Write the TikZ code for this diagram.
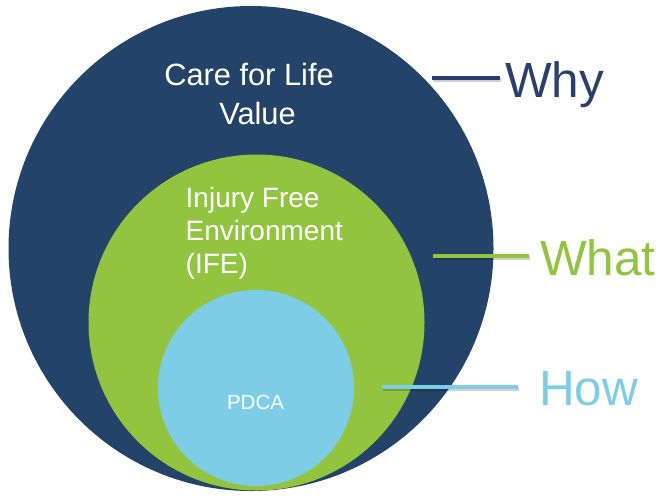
\documentclass[tikz,border=0pt]{standalone}
\usepackage{fontspec}
\setmainfont{Liberation Sans}
\definecolor{navy}{HTML}{244369}
\definecolor{whytext}{HTML}{2A3F6D}
\definecolor{leaf}{HTML}{92C43F}
\definecolor{sky}{HTML}{7ECDE6}
\tikzset{
  ring/.style={circle, inner sep=0pt, minimum size=#1},
  lbl/.style={text=white, inner sep=0pt, anchor=base west},
  tag/.style={inner sep=0pt, anchor=base west, font=\fontsize{49.5}{49.5}\selectfont},
  leader/.style={line width=4pt},
  leadershadow/.style={line width=4pt, draw=black, opacity=0.18}
}
\begin{document}
\begin{tikzpicture}[x=1pt,y=-1pt]
\useasboundingbox (0,0) rectangle (671,496);
% circles
\node[ring=485pt, fill=navy] (why) at (251,248.5) {};
\node[ring=336pt, fill=leaf] (what) at (256.5,322.5) {};
\node[ring=196pt, fill=sky] (how) at (256,388) {};
% texts inside
\node[text=white, inner sep=0pt, anchor=base, font=\fontsize{30.8}{30.8}\selectfont] (care1) at (249,85) {Care for Life};
\node[text=white, inner sep=0pt, anchor=base, font=\fontsize{30.8}{30.8}\selectfont] (care2) at (257.5,124) {Value};
\node[lbl, font=\fontsize{28}{28}\selectfont] (ife1) at (185.5,207) {Injury Free};
\node[lbl, font=\fontsize{28}{28}\selectfont] (ife2) at (185.5,240) {Environment};
\node[lbl, font=\fontsize{28}{28}\selectfont] (ife3) at (185.5,273) {(IFE)};
\node[text=white, inner sep=0pt, anchor=base, font=\fontsize{20.5}{20.5}\selectfont] (pdca) at (255.5,409) {PDCA};
% labels
\node[tag, text=whytext] (whyl) at (505,97) {Why};
\node[tag, text=leaf] (whatl) at (540,275) {What};
\node[tag, text=sky] (howl) at (539,405) {How};
% leader ends
\coordinate (a1) at (432,78);  \coordinate (a2) at (500,78);
\coordinate (b1) at (433,256); \coordinate (b2) at (529,256);
\coordinate (c1) at (382,387); \coordinate (c2) at (518,387);
\foreach \p/\q in {a1/a2,b1/b2,c1/c2}
  \draw[leadershadow, transform canvas={shift={(1.2pt,-1.5pt)}}] (\p) -- (\q);
\draw[leader, draw=whytext] (a1) -- (a2);
\draw[leader, draw=leaf] (b1) -- (b2);
\draw[leader, draw=sky] (c1) -- (c2);
\end{tikzpicture}
\end{document}
